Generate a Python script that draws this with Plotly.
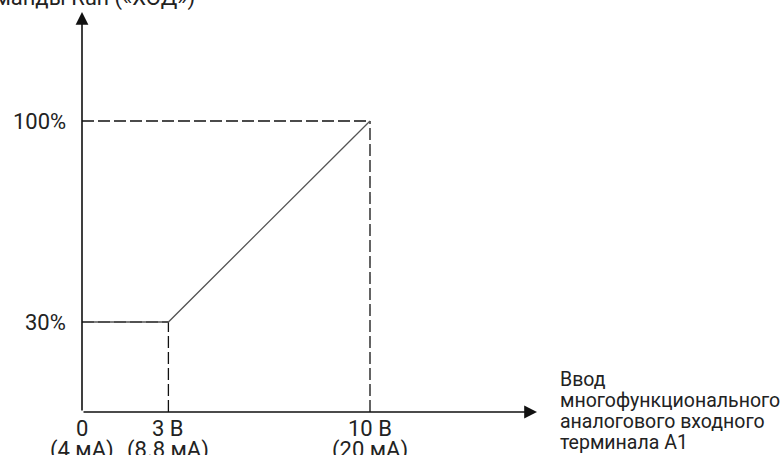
"""
Frequency reference vs. analog input A1 — piecewise characteristic.
"""
import plotly.graph_objects as go

# --- data -------------------------------------------------------------
x_volts = [0, 3, 10]
y_percent = [30, 30, 100]

x_tick_vals = [0, 3, 10]
x_tick_volts = ["0", "3 В", "10 В"]
x_tick_ma = ["(4 мА)", "(8.8 мА)", "(20 мА)"]

y_tick_vals = [30, 100]
y_tick_labels = ["30%", "100%"]

y_title = "Команды Run («ХОД»)"
x_title_lines = ["Ввод", "многофункционального", "аналогового входного", "терминала A1"]

# --- styling ----------------------------------------------------------
FAMILY = "Roboto, 'Noto Sans', sans-serif"
TICK_FONT = dict(family=FAMILY, size=22, color="#222222")
TITLE_FONT = dict(family=FAMILY, size=19.5, color="#222222")
AXIS_COLOR = "#111111"
LINE_COLOR = "#555555"
DASH = "12px,4px"

W, H = 784, 455
X_PX_PER_UNIT = 28.8      # px per volt
Y_PX_PER_UNIT = 2.8714    # px per percent
X0_PX = 82                # pixel column of x = 0
Y30_PX = 322              # pixel row of y = 30
Y_AXIS = 30 - (412 - Y30_PX) / Y_PX_PER_UNIT   # value where the x axis sits
X_ARROW = (537 - X0_PX) / X_PX_PER_UNIT
Y_ARROW = 30 + (Y30_PX - 12) / Y_PX_PER_UNIT

x_range = [-X0_PX / X_PX_PER_UNIT, (W - X0_PX) / X_PX_PER_UNIT]
y_range = [30 - (H - Y30_PX) / Y_PX_PER_UNIT, 30 + Y30_PX / Y_PX_PER_UNIT]

fig = go.Figure()

# dashed guides from the breakpoints down to the x axis and across to the y axis
for xv, yv in zip(x_volts[1:], y_percent[1:]):
    fig.add_trace(go.Scatter(
        x=[xv, xv], y=[Y_AXIS, yv], mode="lines",
        line=dict(color=AXIS_COLOR, width=1.3, dash=DASH), hoverinfo="skip",
    ))
    fig.add_trace(go.Scatter(
        x=[0, xv], y=[yv, yv], mode="lines",
        line=dict(color=AXIS_COLOR, width=1.3, dash=DASH), hoverinfo="skip",
    ))

# characteristic
fig.add_trace(go.Scatter(
    x=x_volts, y=y_percent, mode="lines",
    line=dict(color=LINE_COLOR, width=1.3), hoverinfo="skip",
))

annotations = []

# axes with arrowheads
annotations.append(dict(
    x=X_ARROW, y=Y_AXIS, ax=0, ay=Y_AXIS, xref="x", yref="y", axref="x", ayref="y",
    text="", showarrow=True, arrowhead=2, arrowsize=1.6, arrowwidth=1.6, arrowcolor=AXIS_COLOR,
))
annotations.append(dict(
    x=0, y=Y_ARROW, ax=0, ay=Y_AXIS, xref="x", yref="y", axref="x", ayref="y",
    text="", showarrow=True, arrowhead=2, arrowsize=1.6, arrowwidth=1.6, arrowcolor=AXIS_COLOR,
))

# y tick labels
for val, lab in zip(y_tick_vals, y_tick_labels):
    annotations.append(dict(
        x=0, y=val, xref="x", yref="y", text=lab, showarrow=False,
        xanchor="right", yanchor="middle", xshift=-14, font=TICK_FONT,
    ))

# x tick labels, two lines each
for val, top, bottom in zip(x_tick_vals, x_tick_volts, x_tick_ma):
    annotations.append(dict(
        x=val, y=Y_AXIS, xref="x", yref="y", text=top, showarrow=False,
        xanchor="center", yanchor="middle", yshift=-16, font=TICK_FONT,
    ))
    annotations.append(dict(
        x=val, y=Y_AXIS, xref="x", yref="y", text=bottom, showarrow=False,
        xanchor="center", yanchor="middle", yshift=-38, font=TICK_FONT,
    ))

# axis titles
annotations.append(dict(
    x=0, y=Y_ARROW, xref="x", yref="y", text=y_title, showarrow=False,
    xanchor="right", yanchor="middle", xshift=115, yshift=14, font=TICK_FONT,
))
for i, line in enumerate(x_title_lines):
    annotations.append(dict(
        x=X_ARROW, y=Y_AXIS, xref="x", yref="y", text=line, showarrow=False,
        xanchor="left", yanchor="middle", xshift=21, yshift=33 - 21 * i, font=TITLE_FONT,
    ))

fig.update_layout(
    width=W, height=H,
    plot_bgcolor="white", paper_bgcolor="white",
    margin=dict(l=0, r=0, t=0, b=0),
    showlegend=False,
    font=TICK_FONT,
    xaxis=dict(range=x_range, visible=False, fixedrange=True),
    yaxis=dict(range=y_range, visible=False, fixedrange=True),
    annotations=annotations,
)

# drop the browser's default body margin so the figure sits at the page corner
fig.write_html(
    "out.html",
    config={"displayModeBar": False, "staticPlot": True},
    post_script="document.body.style.margin = '0';",
)
